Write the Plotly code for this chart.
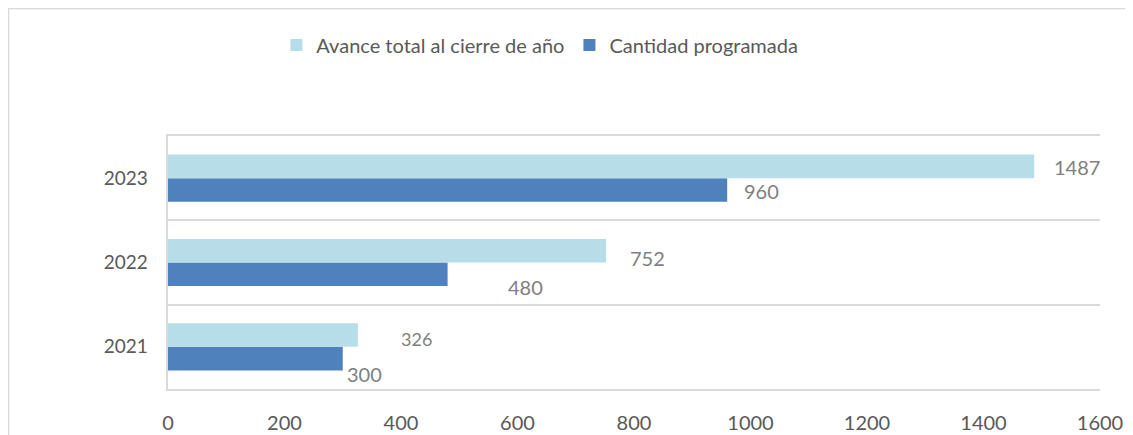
import plotly.graph_objects as go

years = ["2021", "2022", "2023"]
avance = [326, 752, 1487]
programada = [300, 480, 960]
x_ticks = [0, 200, 400, 600, 800, 1000, 1200, 1400, 1600]

LIGHT = "#B7DDE8"
DARK = "#4F81BD"
GRID = "#D9D9D9"
FONT = "Lato, 'Open Sans', sans-serif"

fig = go.Figure()
# first trace sits lower within each group on a horizontal bar chart
fig.add_trace(go.Bar(
    y=years, x=programada, orientation="h", name="Cantidad programada",
    marker=dict(color=DARK, line=dict(width=0)), legendrank=2,
))
fig.add_trace(go.Bar(
    y=years, x=avance, orientation="h", name="Avance total al cierre de año",
    marker=dict(color=LIGHT, line=dict(width=0)), legendrank=1,
))

# data labels, offsets mimic the hand-placed labels in the original
# (category axis: annotations placed by category index)
label_shifts_avance = [(41, -4, 18), (22, -7, 20), (18, -1, 20)]
label_shifts_prog = [(2, -15, 20), (58, -12, 20), (15, -1, 20)]
for i, (v, (dx, dy, fs)) in enumerate(zip(avance, label_shifts_avance)):
    fig.add_annotation(x=v, y=i, text=str(v), showarrow=False, xanchor="left",
                       xshift=dx, yshift=12 + dy, font=dict(size=fs, color="#7F7F7F", family=FONT))
for i, (v, (dx, dy, fs)) in enumerate(zip(programada, label_shifts_prog)):
    fig.add_annotation(x=v, y=i, text=str(v), showarrow=False, xanchor="left",
                       xshift=dx, yshift=-12 + dy, font=dict(size=fs, color="#7F7F7F", family=FONT))

# outer chart border (right and bottom edges fall outside the picture)
fig.add_shape(type="rect", xref="paper", yref="paper",
              x0=-0.1711, x1=1.2, y0=-0.3, y1=1.504,
              line=dict(color=GRID, width=1.5), fillcolor="rgba(0,0,0,0)")

# page body adds an 8px margin, so the figure is offset by 8px
fig.update_layout(
    width=1125, height=427,
    margin=dict(l=160, r=33, t=128, b=46, autoexpand=False),
    paper_bgcolor="white", plot_bgcolor="white",
    barmode="group", bargap=0.44, bargroupgap=0,
    font=dict(family=FONT, color="#595959"),
    showlegend=True,
    legend=dict(orientation="h", x=0.399, xanchor="center", y=1.36, yanchor="middle",
                font=dict(size=20, color="#595959", family=FONT)),
    xaxis=dict(range=[0, 1600], tickvals=x_ticks, showgrid=False, zeroline=False,
               showline=True, mirror=True, linecolor=GRID, linewidth=1.5,
               ticks="", tickfont=dict(size=20, color="#595959"),
               ticklabelstandoff=15, automargin=False),
    yaxis=dict(type="category", categoryorder="array", categoryarray=years,
               range=[-0.5, 2.5], automargin=False,
               tickson="boundaries", showgrid=True, gridcolor=GRID, gridwidth=1.5,
               showline=True, linecolor=GRID, linewidth=1.5, ticks="",
               ticksuffix="   ",
               tickfont=dict(size=19, color="#595959"), zeroline=False),
)

fig.write_html("out.html")
